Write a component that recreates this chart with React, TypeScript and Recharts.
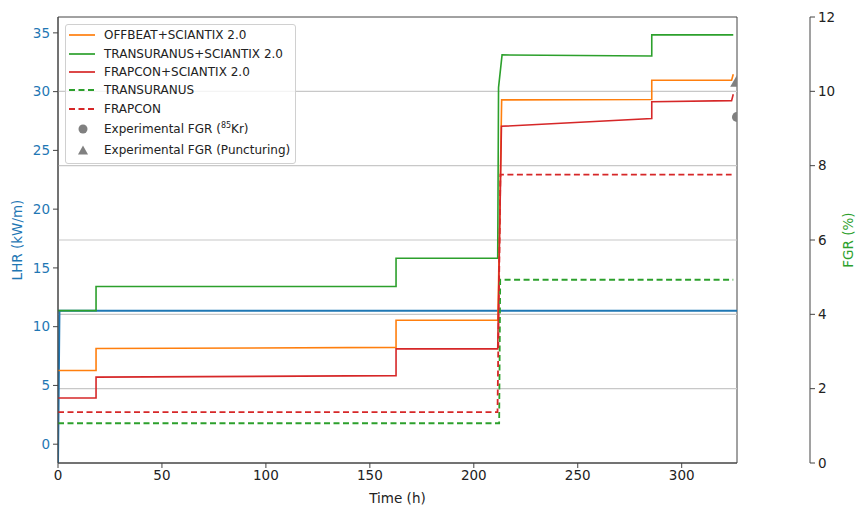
import React from "react";
import {
  ComposedChart,
  Line,
  Scatter,
  XAxis,
  YAxis,
  ZAxis,
  Legend,
  ReferenceLine,
  ReferenceArea,
} from "recharts";

// time (h) / FGR (%)
const offbeatTime = [0, 18.3, 18.3, 162.6, 162.6, 211.6, 213.4, 285.6, 285.6, 324.0, 324.8];
const offbeatFgr = [2.49, 2.49, 3.08, 3.11, 3.84, 3.84, 9.77, 9.78, 10.3, 10.3, 10.46];

const transuranusSciTime = [0, 18.3, 18.3, 162.6, 162.6, 211.5, 211.9, 213.6, 285.6, 285.6, 324.8];
const transuranusSciFgr = [4.1, 4.1, 4.75, 4.75, 5.51, 5.51, 10.1, 10.98, 10.95, 11.52, 11.52];

const frapconSciTime = [0, 18.3, 18.3, 162.6, 162.6, 211.5, 213.3, 285.6, 285.6, 324.0, 324.8];
const frapconSciFgr = [1.75, 1.75, 2.31, 2.35, 3.07, 3.07, 9.06, 9.27, 9.72, 9.75, 9.92];

const transuranusTime = [0, 212.2, 212.7, 324.8];
const transuranusFgr = [1.07, 1.07, 4.93, 4.93];

const frapconTime = [0, 211.4, 212.8, 324.0];
const frapconFgr = [1.37, 1.37, 7.76, 7.76];

const lhrTime = [0, 0.7, 326.6];
const lhrValues = [-1.6, 11.35, 11.35];

const kr85Time = [326.6];
const kr85Fgr = [9.31];
const puncturingTime = [326.6];
const puncturingFgr = [10.23];

const timeTicks = [0, 50, 100, 150, 200, 250, 300];
const lhrTicks = [0, 5, 10, 15, 20, 25, 30, 35];
const fgrTicks = [0, 2, 4, 6, 8, 10, 12];
const gridValues = [2, 4, 6, 8, 10];

const X_MAX = 326.6;
const FONT = "DejaVu Sans";

const toPoints = (t: number[], v: number[]) => t.map((x, i) => ({ t: x, v: v[i] }));

const legendItems = [
  { label: "OFFBEAT+SCIANTIX 2.0", color: "#ff7f0e", kind: "line" },
  { label: "TRANSURANUS+SCIANTIX 2.0", color: "#2ca02c", kind: "line" },
  { label: "FRAPCON+SCIANTIX 2.0", color: "#d62728", kind: "line" },
  { label: "TRANSURANUS", color: "#2ca02c", kind: "dash" },
  { label: "FRAPCON", color: "#d62728", kind: "dash" },
  { label: "kr", color: "#808080", kind: "circle" },
  { label: "Experimental FGR (Puncturing)", color: "#808080", kind: "triangle" },
];

function LegendBox() {
  return (
    <div
      style={{
        fontFamily: FONT,
        fontSize: 12,
        color: "#222",
        background: "rgba(255,255,255,0.8)",
        border: "1px solid #d0d0d0",
        borderRadius: 3,
        padding: "1px 0 2px 0",
        boxSizing: "border-box",
        width: 231,
      }}
    >
      {legendItems.map((it) => {
        const isMarker = it.kind === "circle" || it.kind === "triangle";
        return (
          <div
            key={it.label}
            style={{ display: "flex", alignItems: "center", height: isMarker ? 21.5 : 18.4 }}
          >
            <svg width={38} height={12} style={{ flex: "none" }}>
              {it.kind === "line" && (
                <line x1={3} x2={29} y1={6} y2={6} stroke={it.color} strokeWidth={1.7} />
              )}
              {it.kind === "dash" && (
                <line
                  x1={3}
                  x2={29}
                  y1={6}
                  y2={6}
                  stroke={it.color}
                  strokeWidth={1.8}
                  strokeDasharray="6 3.5"
                />
              )}
              {it.kind === "circle" && <circle cx={17} cy={6} r={4.5} fill={it.color} />}
              {it.kind === "triangle" && (
                <path d="M17 1.5 L22 10.5 L12 10.5 Z" fill={it.color} />
              )}
            </svg>
            <span style={{ whiteSpace: "nowrap" }}>
              {it.label === "kr" ? (
                <>
                  Experimental FGR (<sup style={{ fontSize: 8 }}>85</sup>Kr)
                </>
              ) : (
                it.label
              )}
            </span>
          </div>
        );
      })}
    </div>
  );
}

function AxisTitle(props: any) {
  const { viewBox, value, fill, side } = props;
  const cy = viewBox.y + viewBox.height / 2;
  const x = side === "left" ? viewBox.x + 17 : viewBox.x + viewBox.width - 10;
  return (
    <text
      x={x}
      y={cy}
      transform={`rotate(-90 ${x} ${cy})`}
      textAnchor="middle"
      dominantBaseline="central"
      fill={fill}
      fontSize={13.5}
      fontFamily={FONT}
    >
      {value}
    </text>
  );
}

export default function App() {
  const solid = (t: number[], v: number[], color: string, key: string) => (
    <Line
      key={key}
      data={toPoints(t, v)}
      dataKey="v"
      yAxisId="fgr"
      type="linear"
      stroke={color}
      strokeWidth={1.6}
      dot={false}
      isAnimationActive={false}
    />
  );
  const dashed = (t: number[], v: number[], color: string, key: string) => (
    <Line
      key={key}
      data={toPoints(t, v)}
      dataKey="v"
      yAxisId="fgr"
      type="linear"
      stroke={color}
      strokeWidth={1.8}
      strokeDasharray="6 3.5"
      dot={false}
      isAnimationActive={false}
    />
  );

  return (
    <div style={{ position: "absolute", left: 0, top: 0, background: "#fff" }}>
      <ComposedChart
        width={858}
        height={507}
        margin={{ top: 17, right: 0, bottom: 0, left: 0 }}
        style={{ fontFamily: FONT }}
      >
        <XAxis
          dataKey="t"
          type="number"
          domain={[0, X_MAX]}
          ticks={timeTicks}
          allowDataOverflow
          height={44}
          tick={{ fontSize: 13.5, fill: "#222" }}
          tickSize={5}
          tickMargin={2}
          stroke="#444"
          label={{ value: "Time (h)", position: "insideBottom", offset: 4, fontSize: 13.5, fill: "#222" }}
        />
        <YAxis
          yAxisId="lhr"
          type="number"
          domain={[-1.6, 36.35]}
          ticks={lhrTicks}
          allowDataOverflow
          width={58}
          tick={{ fontSize: 13.5, fill: "#1f77b4" }}
          tickSize={5}
          tickMargin={3}
          stroke="#444"
          label={<AxisTitle value="LHR (kW/m)" fill="#1f77b4" side="left" />}
        />
        <YAxis
          yAxisId="fgr"
          orientation="right"
          dataKey="v"
          type="number"
          domain={[0, 12]}
          ticks={fgrTicks}
          allowDataOverflow
          width={48}
          tick={{ fontSize: 13.5, fill: "#222" }}
          tickSize={5}
          tickMargin={3}
          stroke="#444"
          label={<AxisTitle value="FGR (%)" fill="#2ca02c" side="right" />}
        />
        <YAxis
          yAxisId="aspacer"
          orientation="right"
          width={73}
          domain={[0, 1]}
          tick={false}
          axisLine={false}
          tickLine={false}
        />
        <ZAxis range={[80, 80]} />

        {gridValues.map((g) => (
          <ReferenceLine key={g} yAxisId="fgr" y={g} stroke="#c8c8c8" strokeWidth={1.1} />
        ))}

        <Line
          data={toPoints(lhrTime, lhrValues)}
          dataKey="v"
          yAxisId="lhr"
          type="linear"
          stroke="#1f77b4"
          strokeWidth={2}
          dot={false}
          isAnimationActive={false}
        />
        {solid(offbeatTime, offbeatFgr, "#ff7f0e", "offbeat")}
        {solid(transuranusSciTime, transuranusSciFgr, "#2ca02c", "tusci")}
        {solid(frapconSciTime, frapconSciFgr, "#d62728", "frsci")}
        {dashed(transuranusTime, transuranusFgr, "#2ca02c", "tu")}
        {dashed(frapconTime, frapconFgr, "#d62728", "fr")}

        <Scatter
          data={toPoints(kr85Time, kr85Fgr)}
          yAxisId="fgr"
          fill="#808080"
          shape="circle"
          isAnimationActive={false}
        />
        <Scatter
          data={toPoints(puncturingTime, puncturingFgr)}
          yAxisId="fgr"
          fill="#808080"
          shape="triangle"
          isAnimationActive={false}
        />

        <ReferenceArea
          yAxisId="fgr"
          x1={0}
          x2={X_MAX}
          y1={0}
          y2={12}
          fill="none"
          fillOpacity={0}
          stroke="#444"
          strokeWidth={1}
        />

        <Legend
          layout="vertical"
          align="center"
          verticalAlign="middle"
          content={<LegendBox />}
          wrapperStyle={{ left: 65, top: 24, width: 231 }}
        />
      </ComposedChart>
    </div>
  );
}
